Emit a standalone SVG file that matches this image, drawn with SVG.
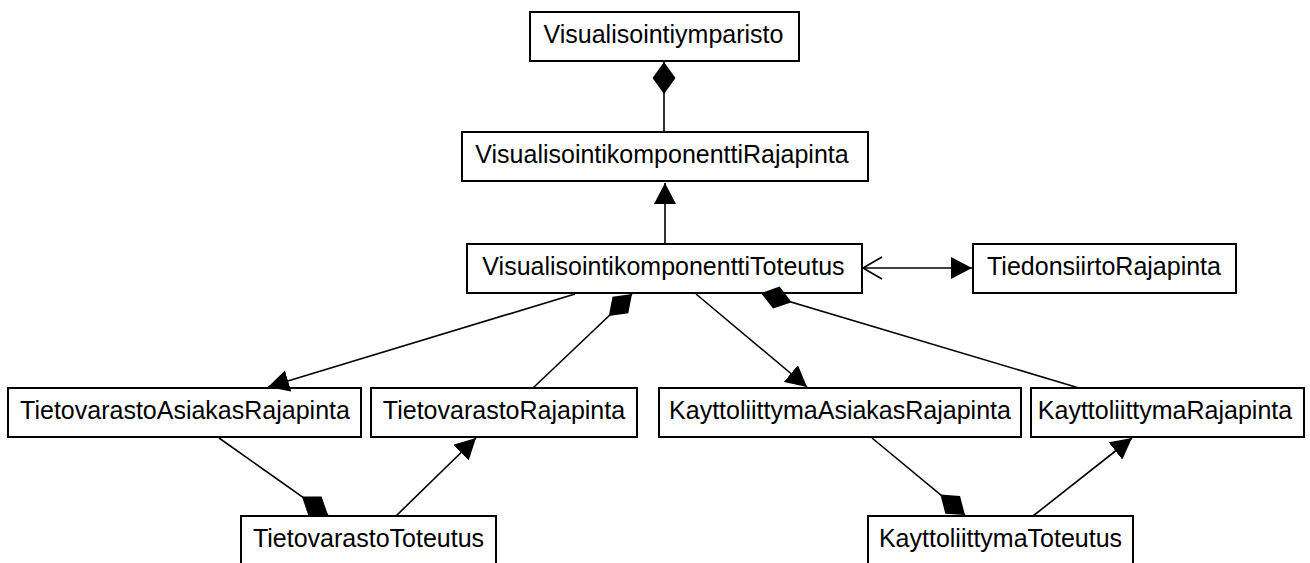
<svg xmlns="http://www.w3.org/2000/svg" width="1310" height="563" viewBox="0 0 1310 563">
  <style>
    .box { fill: #ffffff; stroke: #000000; stroke-width: 2; }
    .lbl { font-family: "Liberation Sans", Arial, sans-serif; font-size: 25px; fill: #000000; text-anchor: middle; }
    .edge { fill: none; stroke: #000000; stroke-width: 1.6; }
  </style>
  <defs>
    <!-- filled triangular arrowhead -->
    <marker id="tri" markerUnits="userSpaceOnUse" markerWidth="22" markerHeight="22" refX="21" refY="11" orient="auto">
      <path d="M0,0 L21,11 L0,22 Z" fill="#000000"/>
    </marker>
    <!-- open arrowhead -->
    <marker id="open" markerUnits="userSpaceOnUse" markerWidth="24" markerHeight="26" refX="20" refY="12" orient="auto-start-reverse">
      <path d="M1,1 L20,12 L1,23" fill="none" stroke="#000000" stroke-width="1.6"/>
    </marker>
    <!-- filled diamond (composition) -->
    <marker id="diamond" markerUnits="userSpaceOnUse" markerWidth="33" markerHeight="24" refX="32" refY="12" orient="auto">
      <path d="M0,12 L16,0.5 L32,12 L16,23.5 Z" fill="#000000"/>
    </marker>
  </defs>

  <g id="Visualisointiymparisto">
    <rect class="box" x="530" y="12" width="269" height="49"/>
    <text class="lbl" x="663.5" y="43">Visualisointiymparisto</text>
  </g>
  <g id="VisualisointikomponenttiRajapinta">
    <rect class="box" x="462" y="132" width="406" height="49"/>
    <text class="lbl" x="662" y="163">VisualisointikomponenttiRajapinta</text>
  </g>
  <g id="VisualisointikomponenttiToteutus">
    <rect class="box" x="467" y="244" width="395" height="49"/>
    <text class="lbl" x="663.5" y="275">VisualisointikomponenttiToteutus</text>
  </g>
  <g id="TiedonsiirtoRajapinta">
    <rect class="box" x="973" y="244" width="263" height="49"/>
    <text class="lbl" x="1104" y="275">TiedonsiirtoRajapinta</text>
  </g>
  <g id="TietovarastoAsiakasRajapinta">
    <rect class="box" x="8" y="388" width="353" height="49"/>
    <text class="lbl" x="185" y="418.5">TietovarastoAsiakasRajapinta</text>
  </g>
  <g id="TietovarastoRajapinta">
    <rect class="box" x="371" y="388" width="266" height="49"/>
    <text class="lbl" x="504" y="418.5">TietovarastoRajapinta</text>
  </g>
  <g id="KayttoliittymaAsiakasRajapinta">
    <rect class="box" x="659" y="388" width="362" height="49"/>
    <text class="lbl" x="840" y="418.5">KayttoliittymaAsiakasRajapinta</text>
  </g>
  <g id="KayttoliittymaRajapinta">
    <rect class="box" x="1031" y="388" width="273" height="49"/>
    <text class="lbl" x="1165" y="418.5">KayttoliittymaRajapinta</text>
  </g>
  <g id="TietovarastoToteutus">
    <rect class="box" x="241" y="516" width="255" height="52"/>
    <text class="lbl" x="368.5" y="546.5">TietovarastoToteutus</text>
  </g>
  <g id="KayttoliittymaToteutus">
    <rect class="box" x="868" y="516" width="265" height="52"/>
    <text class="lbl" x="1000.5" y="546.5">KayttoliittymaToteutus</text>
  </g>

  <g id="connectors">
    <path class="edge" d="M664,132 L664,62" marker-end="url(#diamond)"/>
    <path class="edge" d="M665,244 L665,183" marker-end="url(#tri)"/>
    <path class="edge" d="M863,268 L972,268" marker-start="url(#open)" marker-end="url(#tri)"/>
    <path class="edge" d="M575,294 L268,387" marker-end="url(#tri)"/>
    <path class="edge" d="M533,388 L632,294" marker-end="url(#diamond)"/>
    <path class="edge" d="M696,294 L807,387" marker-end="url(#tri)"/>
    <path class="edge" d="M1079,388 L761,293" marker-end="url(#diamond)"/>
    <path class="edge" d="M219,438 L328,515" marker-end="url(#diamond)"/>
    <path class="edge" d="M396,516 L476,438" marker-end="url(#tri)"/>
    <path class="edge" d="M872,438 L965,515" marker-end="url(#diamond)"/>
    <path class="edge" d="M1033,516 L1132,438" marker-end="url(#tri)"/>
  </g>
</svg>
